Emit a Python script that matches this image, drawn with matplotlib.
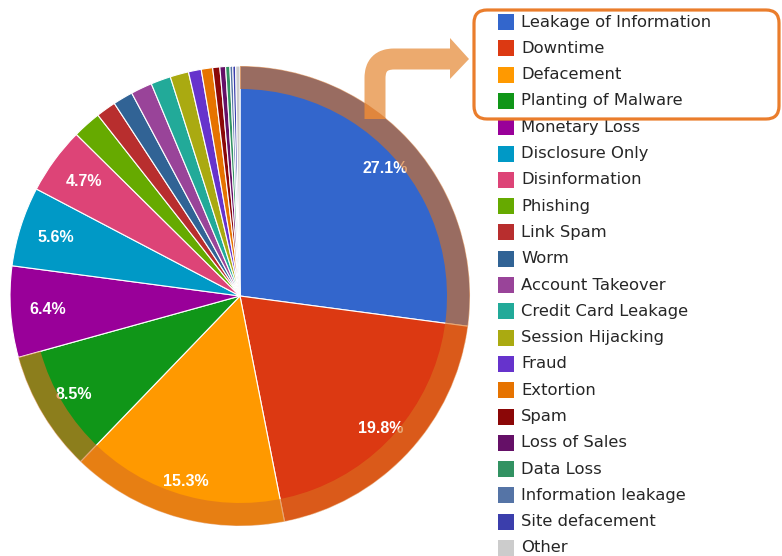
import matplotlib
matplotlib.use("Agg")
import matplotlib.pyplot as plt
from matplotlib.patches import Wedge, Rectangle, FancyBboxPatch, Polygon, PathPatch
from matplotlib.path import Path

labels = ["Leakage of Information", "Downtime", "Defacement", "Planting of Malware",
          "Monetary Loss", "Disclosure Only", "Disinformation", "Phishing", "Link Spam",
          "Worm", "Account Takeover", "Credit Card Leakage", "Session Hijacking", "Fraud",
          "Extortion", "Spam", "Loss of Sales", "Data Loss", "Information leakage",
          "Site defacement", "Other"]
values = [27.1, 19.8, 15.3, 8.5, 6.4, 5.6, 4.7, 2.0, 1.4, 1.4, 1.5, 1.4, 1.3, 0.9,
          0.8, 0.5, 0.4, 0.3, 0.2, 0.2, 0.3]
colors = ["#3366cc", "#dc3912", "#ff9900", "#109618", "#990099", "#0099c6", "#dd4477",
          "#66aa00", "#b82e2e", "#316395", "#994499", "#22aa99", "#aaaa11", "#6633cc",
          "#e67300", "#8b0707", "#651067", "#329262", "#5574a6", "#3b3eac", "#cccccc"]
n_highlight = 4  # first four slices get the ring + boxed legend

W, H = 782, 556
CX, CY, R = 240, 296, 230   # pie centre/radius in image pixels (y down)


def Y(y):
    return H - y


fig = plt.figure(figsize=(W / 100, H / 100), dpi=100)
ax = fig.add_axes([0, 0, 1, 1])

ax.pie(values, colors=colors, startangle=90, counterclock=False,
       center=(CX, Y(CY)), radius=R, pctdistance=0.84,
       autopct=lambda p: f"{p:.1f}%" if p >= 4 else "",
       wedgeprops=dict(edgecolor="white", linewidth=0.8),
       textprops=dict(color="white", fontsize=11.5, fontweight="bold",
                      family=["Liberation Sans", "DejaVu Sans"]))
ax.set_xlim(0, W)
ax.set_ylim(0, H)
ax.set_aspect("equal")
ax.axis("off")

# arrow from the ring to the boxed legend entries (under the ring overlay)
shaft = Path([(375, Y(119)), (375, Y(78)), (375, Y(59)), (394, Y(59)), (451, Y(59))],
             [Path.MOVETO, Path.LINETO, Path.CURVE3, Path.CURVE3, Path.LINETO])
ax.add_patch(PathPatch(shaft, facecolor="none", edgecolor="#ecaa6e",
                       linewidth=21 * 0.72, capstyle="butt", joinstyle="round", zorder=4))
ax.add_patch(Polygon([(450, Y(38)), (469, Y(59)), (450, Y(79))], closed=True,
                     facecolor="#ecaa6e", edgecolor="none", zorder=4))

# translucent ring over the highlighted slices
frac = sum(values[:n_highlight]) / sum(values)
ax.add_patch(Wedge((CX, Y(CY)), R, 90 - 360 * frac, 90, width=23,
                   facecolor="#d9701f", alpha=0.62, linewidth=0, zorder=5))

# legend
row0, step = 22, 26.3
for i, (lab, col) in enumerate(zip(labels, colors)):
    y = row0 + i * step
    ax.add_patch(Rectangle((498, Y(y + 8)), 16, 16, facecolor=col, edgecolor="none"))
    ax.text(521, Y(y), lab, fontsize=11.8, color="#262626", va="center", ha="left",
            family=["DejaVu Sans"])

ax.add_patch(FancyBboxPatch((474, Y(119)), 305, 109,
                            boxstyle="round,pad=0,rounding_size=13",
                            facecolor="none", edgecolor="#ea7d2c", linewidth=2.3, zorder=6))

fig.savefig("out.png", dpi=100)
